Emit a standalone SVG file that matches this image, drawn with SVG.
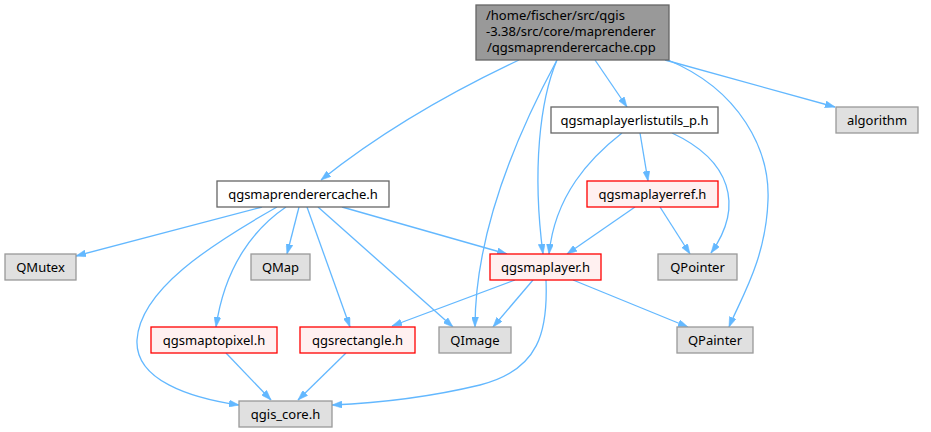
<svg xmlns="http://www.w3.org/2000/svg" width="931" height="432" viewBox="0 0 931 432">
<style>
.n text{font-family:"Noto Sans","DejaVu Sans",sans-serif;font-size:13px;fill:#000;text-anchor:middle}
.n text.l{text-anchor:start}
.top rect{fill:#999999;stroke:#666666}
.w rect{fill:#ffffff;stroke:#666666}
.r rect{fill:#fff0f0;stroke:#ff0000}
.g rect{fill:#e0e0e0;stroke:#999999}
rect{stroke-width:1.3}
#edges path{fill:none;stroke:#63b8ff;stroke-width:1.3;marker-end:url(#arr)}
</style>
<defs>
<marker id="arr" viewBox="0 0 10 7" refX="10" refY="3.5" markerWidth="10" markerHeight="7" markerUnits="userSpaceOnUse" orient="auto">
<path d="M0,0 L10,3.5 L0,7 z" fill="#63b8ff" stroke="#63b8ff" stroke-width="0.5"/>
</marker>
</defs>
<rect width="931" height="432" fill="#ffffff"/>
<g id="edges">
<path d="M519,60 C470,83 390,125 321,180"/>
<path d="M557,60 C530,110 475,220 475,327"/>
<path d="M557,60 C540,100 532,170 543,254"/>
<path d="M595,60 L627,107"/>
<path d="M665,60 L835,107"/>
<path d="M668,60 C740,90 770,150 768,200 C766,260 740,300 729,327"/>
<path d="M622,133 C590,158 555,195 549,254"/>
<path d="M640,133 L648,181"/>
<path d="M672,133 C730,160 745,205 711,253"/>
<path d="M635,207 L567,254"/>
<path d="M660,207 L690,254"/>
<path d="M262,207 L76,256"/>
<path d="M277,207 C210,245 140,290 137,340 C135,380 190,398 239,405"/>
<path d="M286,207 C255,228 225,265 216,327"/>
<path d="M299,207 L287,254"/>
<path d="M307,207 L350,327"/>
<path d="M318,207 L453,327"/>
<path d="M342,207 L507,254"/>
<path d="M515,280 L392,326"/>
<path d="M533,280 L493,327"/>
<path d="M546,280 C548,330 540,370 480,385 C430,397 380,403 332,405"/>
<path d="M573,280 L688,327"/>
<path d="M226,353 L271,400"/>
<path d="M346,353 L298,400"/>
</g>
<g id="node_cpp" class="n top"><rect x="476" y="5" width="193" height="55"/>
<text class="l" x="486" y="20"><tspan x="486" y="20">/home/fischer/src/qgis</tspan><tspan x="486" y="36">-3.38/src/core/maprenderer</tspan><tspan x="487" y="52">/qgsmaprenderercache.cpp</tspan></text></g>
<g id="node_listutils" class="n w"><rect x="551" y="107" width="167" height="26"/><text x="634.5" y="124.5">qgsmaplayerlistutils_p.h</text></g>
<g id="node_algorithm" class="n g"><rect x="836" y="107" width="82" height="26"/><text x="877" y="124.5">algorithm</text></g>
<g id="node_mrc" class="n w"><rect x="217" y="181" width="172" height="26"/><text x="303" y="198.5">qgsmaprenderercache.h</text></g>
<g id="node_layerref" class="n r"><rect x="587" y="181" width="131" height="26"/><text x="652.5" y="198.5">qgsmaplayerref.h</text></g>
<g id="node_qmutex" class="n g"><rect x="5" y="254" width="71" height="26"/><text x="40.5" y="271.5">QMutex</text></g>
<g id="node_qmap" class="n g"><rect x="251" y="254" width="59" height="26"/><text x="280.5" y="271.5">QMap</text></g>
<g id="node_layer" class="n r"><rect x="490" y="254" width="111" height="26"/><text x="545.5" y="271.5">qgsmaplayer.h</text></g>
<g id="node_qpointer" class="n g"><rect x="658" y="254" width="79" height="26"/><text x="697.5" y="271.5">QPointer</text></g>
<g id="node_maptopixel" class="n r"><rect x="151" y="327" width="126" height="26"/><text x="214" y="344.5">qgsmaptopixel.h</text></g>
<g id="node_rect" class="n r"><rect x="300" y="327" width="115" height="26"/><text x="357.5" y="344.5">qgsrectangle.h</text></g>
<g id="node_qimage" class="n g"><rect x="439" y="327" width="72" height="26"/><text x="475" y="344.5">QImage</text></g>
<g id="node_qpainter" class="n g"><rect x="677" y="327" width="76" height="26"/><text x="715" y="344.5">QPainter</text></g>
<g id="node_core" class="n g"><rect x="239" y="401" width="93" height="26"/><text x="285.5" y="418.5">qgis_core.h</text></g>
</svg>
